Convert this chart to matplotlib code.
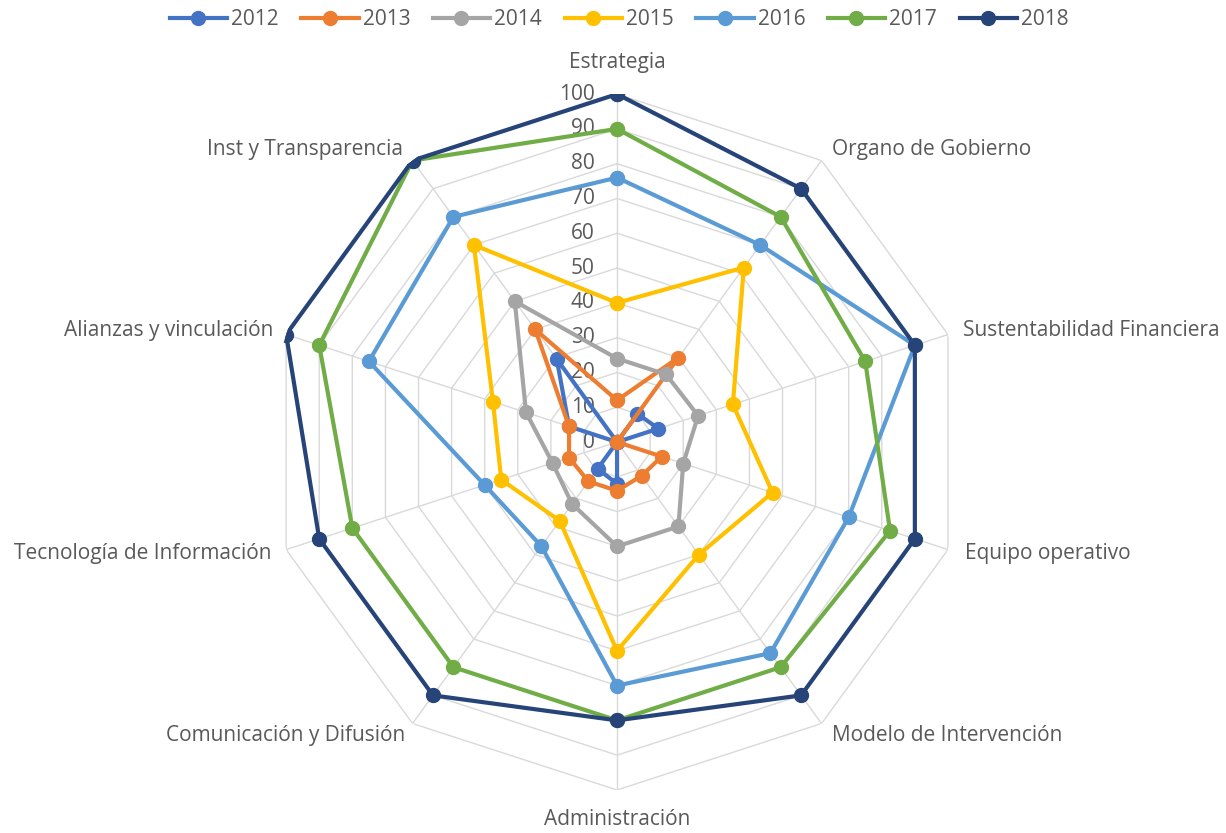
import numpy as np
import matplotlib
matplotlib.use("Agg")
import matplotlib.pyplot as plt
from matplotlib.lines import Line2D

categories = ["Estrategia", "Organo de Gobierno", "Sustentabilidad Financiera",
              "Equipo operativo", "Modelo de Intervención", "Administración",
              "Comunicación y Difusión", "Tecnología de Información",
              "Alianzas y vinculación", "Inst y Transparencia"]
years = ["2012", "2013", "2014", "2015", "2016", "2017", "2018"]
v2012 = [0, 10, 12.5, 0, 0, 12, 9.5, 0, 14.5, 29.5]
v2013 = [12, 30, 0, 13.5, 12, 14, 14, 14.5, 14.5, 40]
v2014 = [24, 24, 24.5, 20, 30, 30, 22, 19.5, 27.5, 50]
v2015 = [40, 62, 35, 47, 40, 60, 28, 35, 37.5, 70]
v2016 = [76, 70, 90, 70, 75, 70, 37, 40, 75, 80]
v2017 = [90, 80, 75, 82.5, 80, 80, 80, 80, 90, 100]
v2018 = [100, 90, 90, 90, 90, 80, 90, 90, 100, 100]
series = [v2012, v2013, v2014, v2015, v2016, v2017, v2018]
colors = ["#4472C4", "#ED7D31", "#A5A5A5", "#FFC000", "#5B9BD5", "#70AD47", "#264478"]
ticks = [0, 10, 20, 30, 40, 50, 60, 70, 80, 90, 100]

plt.rcParams['font.family'] = ['Open Sans', 'DejaVu Sans']
txt_color = "#595959"
fs = 15

fig = plt.figure(figsize=(12.26, 8.33), dpi=100)
ax = fig.add_axes([0.2195, 0.0516, 0.5676, 0.8355], projection='polar')
ax.set_theta_zero_location('N')
ax.set_theta_direction(-1)
ax.set_ylim(0, 100)
ax.grid(False)
ax.spines['polar'].set_visible(False)
ax.set_xticks([])
ax.set_yticks([])
ax.patch.set_alpha(0)

n = len(categories)
theta = np.arange(n) * 2 * np.pi / n
tc = np.append(theta, theta[0])

grid_c = "#D9D9D9"
for t in ticks[1:]:
    ax.plot(tc, [t] * (n + 1), color=grid_c, lw=1.0, zorder=1)
for th in theta:
    ax.plot([th, th], [0, 100], color=grid_c, lw=1.0, zorder=1)

for y, vals, c in zip(years, series, colors):
    vv = np.append(vals, vals[0])
    ax.plot(tc, vv, color=c, lw=3.0, marker='o', markersize=10, zorder=3, label=y)

for t in ticks:
    ax.annotate(str(t), xy=(0, t), xytext=(-16, 0), textcoords='offset points',
                ha='right', va='center', fontsize=fs, color=txt_color, zorder=2)

# label offsets in pixels (dx, dy_up), alignment
offs = [(0, 32, 'center'), (10, 11.5, 'left'), (15, 4, 'left'), (17, -3.5, 'left'),
        (10, -11.5, 'left'), (0, -30, 'center'), (-7.5, -11.5, 'right'),
        (-15, -3.5, 'right'), (-13, 4, 'right'), (-9.5, 11.5, 'right')]
for th, lab, (dx, dy, ha) in zip(theta, categories, offs):
    ax.annotate(lab, xy=(th, 100), xytext=(dx * 0.72, dy * 0.72), textcoords='offset points',
                ha=ha, va='center', fontsize=fs, color=txt_color, annotation_clip=False)

handles = [Line2D([0], [0], color=c, lw=3.0, marker='o', markersize=10) for c in colors]
fig.legend(handles, years, loc='center', bbox_to_anchor=(0.505, 0.976), ncol=7,
           frameon=False, fontsize=fs, labelcolor=txt_color, handlelength=2.75,
           handletextpad=0.2, columnspacing=1.08)

fig.savefig("out.png", dpi=100)
